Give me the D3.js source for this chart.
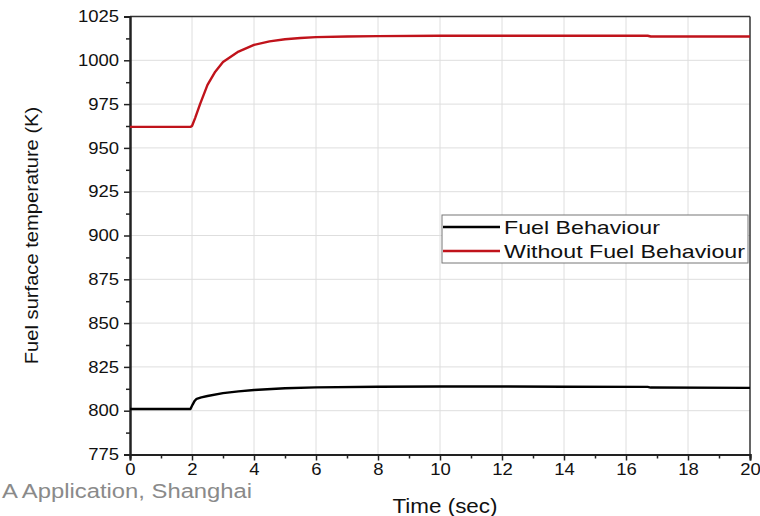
<!DOCTYPE html>
<html><head><meta charset="utf-8">
<script src="https://cdn.jsdelivr.net/npm/d3@7"></script>
<style>body{margin:0;background:#fff}svg{display:block}</style>
</head><body>
<svg id="c" width="760" height="516"></svg>
<script>
const seriesNames = ["Fuel Behaviour", "Without Fuel Behaviour"];
const seriesColors = ["#000000", "#c0131b"];
const fuelT = [0, 1.95, 2.02, 2.08, 2.15, 2.3, 2.5, 3, 3.5, 4, 5, 6, 8, 10, 12, 14, 16.7, 16.8, 20];
const fuelV = [801, 801, 803.5, 805.5, 806.8, 807.6, 808.4, 810, 811, 811.8, 812.8, 813.3, 813.7, 813.8, 813.8, 813.7, 813.6, 813.2, 813];
const noFuelT = [0, 1.95, 2.0, 2.1, 2.26, 2.5, 2.75, 3, 3.5, 4, 4.5, 5, 5.5, 6, 7, 8, 10, 12, 14, 16.7, 16.8, 20];
const noFuelV = [962, 962, 962.5, 967, 975, 986, 993.5, 999, 1005, 1008.8, 1010.8, 1012, 1012.7, 1013.2, 1013.6, 1013.8, 1014, 1014, 1014, 1014, 1013.6, 1013.6];
const xTicks = [0, 2, 4, 6, 8, 10, 12, 14, 16, 18, 20];
const yTicks = [775, 800, 825, 850, 875, 900, 925, 950, 975, 1000, 1025];
const xTitle = "Time (sec)";
const yTitle = "Fuel surface temperature (K)";
const watermark = "A Application, Shanghai";

const svg = d3.select("#c");
const L = 130, R = 750, T = 16.5, B = 454.5;
const x = d3.scaleLinear().domain([0, 20]).range([L, R]);
const y = d3.scaleLinear().domain([775, 1025]).range([B, T]);
const font = "Arial, 'Liberation Sans', sans-serif";

function stretch(sel, k) {
  sel.each(function () {
    const w = this.getComputedTextLength();
    d3.select(this).attr("textLength", w * k).attr("lengthAdjust", "spacingAndGlyphs");
  });
}

// grid
svg.append("g").selectAll("line").data(xTicks.slice(1, -1)).join("line")
  .attr("x1", d => x(d)).attr("x2", d => x(d)).attr("y1", T).attr("y2", B)
  .attr("stroke", "#dedede").attr("stroke-width", 1);
svg.append("g").selectAll("line").data(yTicks.slice(1, -1)).join("line")
  .attr("y1", d => y(d)).attr("y2", d => y(d)).attr("x1", L).attr("x2", R)
  .attr("stroke", "#dedede").attr("stroke-width", 1);

// frame top/right
svg.append("line").attr("x1", L).attr("x2", R).attr("y1", T).attr("y2", T).attr("stroke", "#333").attr("stroke-width", 1.5);
svg.append("line").attr("x1", R).attr("x2", R).attr("y1", T).attr("y2", B).attr("stroke", "#333").attr("stroke-width", 1.5);

// axes
const xAxis = d3.axisBottom(x).tickValues(xTicks).tickSize(6).tickPadding(3).tickFormat(d3.format("d"));
const xMinor = d3.axisBottom(x).tickValues(d3.range(1, 20, 2)).tickSize(4).tickFormat("");
const yAxis = d3.axisLeft(y).tickValues(yTicks).tickSize(6).tickPadding(5).tickFormat(d3.format("d"));
const yMinor = d3.axisLeft(y).tickValues(d3.range(787.5, 1025, 25)).tickSize(4).tickFormat("");

function styleAxis(g) {
  g.select(".domain").attr("stroke", "#222").attr("stroke-width", 2);
  g.selectAll(".tick line").attr("stroke", "#222").attr("stroke-width", 1.5);
  g.selectAll("text").attr("font-family", font).attr("font-size", 16.5).attr("fill", "#111");
}
svg.append("g").attr("transform", `translate(0,${B})`).call(xMinor).call(styleAxis);
svg.append("g").attr("transform", `translate(${L},0)`).call(yMinor).call(styleAxis);
svg.append("g").attr("transform", `translate(0,${B})`).call(xAxis).call(styleAxis)
  .selectAll(".tick text").call(stretch, 1.12);
svg.append("g").attr("transform", `translate(${L},0)`).call(yAxis).call(styleAxis)
  .selectAll(".tick text").call(stretch, 1.12);

// lines
const line = d3.line().x(d => x(d[0])).y(d => y(d[1]));
const data = [d3.zip(fuelT, fuelV), d3.zip(noFuelT, noFuelV)];
data.forEach((d, i) => {
  svg.append("path").datum(d).attr("d", line).attr("fill", "none")
    .attr("stroke", seriesColors[i]).attr("stroke-width", 2.4).attr("stroke-linejoin", "round");
});

// legend
const lg = svg.append("g");
lg.append("rect").attr("x", 442).attr("y", 215).attr("width", 306).attr("height", 48)
  .attr("fill", "#fff").attr("stroke", "#777").attr("stroke-width", 1);
seriesNames.forEach((n, i) => {
  const yy = 227 + i * 24;
  lg.append("line").attr("x1", 443).attr("x2", 500).attr("y1", yy).attr("y2", yy)
    .attr("stroke", seriesColors[i]).attr("stroke-width", 2.4);
  lg.append("text").attr("x", 504).attr("y", yy).attr("dy", "0.36em")
    .attr("font-family", font).attr("font-size", 19).attr("fill", "#111").text(n)
    .call(stretch, 1.22);
});

// titles
svg.append("text").attr("x", 445).attr("y", 513).attr("text-anchor", "middle")
  .attr("font-family", font).attr("font-size", 20).attr("fill", "#111").text(xTitle)
  .call(stretch, 1.12);
svg.append("text").attr("transform", `translate(38,${(T + B) / 2}) rotate(-90)`)
  .attr("text-anchor", "middle").attr("font-family", font).attr("font-size", 19).attr("fill", "#111").text(yTitle)
  .call(stretch, 1.06);

// watermark
svg.append("text").attr("x", 2).attr("y", 497.5).attr("font-family", font).attr("font-size", 20)
  .attr("fill", "#8a8a8a").text(watermark).call(stretch, 1.19);
</script>
</body></html>
